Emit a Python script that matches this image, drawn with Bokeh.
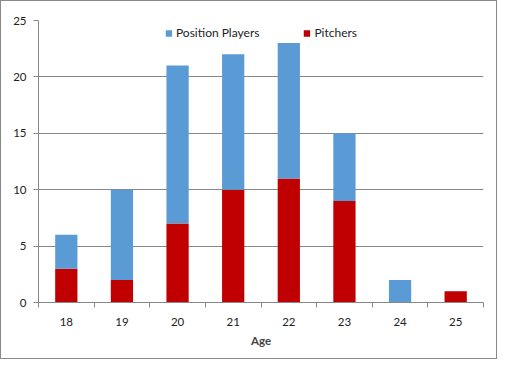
from bokeh.plotting import figure
from bokeh.models import FixedTicker, Range1d, ColumnDataSource, Legend, LegendItem
from bokeh.embed import file_html
from bokeh.resources import INLINE

ages = ["18", "19", "20", "21", "22", "23", "24", "25"]
pitchers = [3, 2, 7, 10, 11, 9, 0, 1]
position_players = [3, 8, 14, 12, 12, 6, 2, 0]
y_ticks = [0, 5, 10, 15, 20, 25]

FONT = "Lato"
GRAY = "#878787"

xs = [i + 0.5 for i in range(len(ages))]
src = ColumnDataSource(dict(x=xs, pitchers=pitchers, position=position_players))

p = figure(width=497, height=359, output_backend="svg", toolbar_location=None,
           x_range=Range1d(0, len(ages)), y_range=Range1d(0, 25),
           min_border_left=37, min_border_right=15, min_border_top=19, min_border_bottom=58)
p.outline_line_color = None
p.background_fill_color = "white"
p.border_fill_color = "white"
p.styles = {"border": "1px solid #8a8a8a", "box-sizing": "border-box"}

r = p.vbar_stack(["pitchers", "position"], x="x", width=0.4, source=src,
                 color=["#C00000", "#5B9BD5"], line_color=None)

legend = Legend(items=[LegendItem(label="Position Players", renderers=[r[1]]),
                       LegendItem(label="Pitchers", renderers=[r[0]])],
                orientation="horizontal", location="top_center",
                glyph_width=8, glyph_height=8, label_standoff=4, spacing=43,
                label_text_font=FONT, label_text_font_size="12px",
                label_text_color="#222222", border_line_color=None,
                background_fill_alpha=0, margin=5, padding=2, label_height=10)
p.add_layout(legend)

# x axis
p.xaxis.ticker = FixedTicker(ticks=xs, minor_ticks=list(range(len(ages) + 1)))
p.xaxis.major_label_overrides = {x: a for x, a in zip(xs, ages)}
p.xaxis.major_tick_line_color = None
p.xaxis.major_tick_out = 0
p.xaxis.major_tick_in = 0
p.xaxis.minor_tick_in = 0
p.xaxis.minor_tick_out = 5
p.xaxis.minor_tick_line_color = GRAY
p.xaxis.axis_line_color = GRAY
p.xaxis.major_label_standoff = 10
p.xaxis.axis_label = "Age"
p.xaxis.axis_label_text_font = FONT
p.xaxis.axis_label_text_font_style = "bold"
p.xaxis.axis_label_text_font_size = "11.5px"
p.xaxis.axis_label_standoff = 5
p.xaxis.major_label_text_font = FONT
p.xaxis.major_label_text_font_size = "11.5px"
p.xaxis.major_label_text_color = "#222222"

# y axis
p.yaxis.ticker = FixedTicker(ticks=y_ticks)
p.yaxis.major_tick_in = 0
p.yaxis.major_tick_out = 5
p.yaxis.major_tick_line_color = GRAY
p.yaxis.minor_tick_line_color = None
p.yaxis.axis_line_color = GRAY
p.yaxis.major_label_standoff = 7
p.yaxis.major_label_text_font = FONT
p.yaxis.major_label_text_font_size = "11.5px"
p.yaxis.major_label_text_color = "#222222"

p.xgrid.grid_line_color = None
p.ygrid.ticker = FixedTicker(ticks=y_ticks)
p.ygrid.grid_line_color = GRAY

open("out.html", "w").write(file_html(p, INLINE))
